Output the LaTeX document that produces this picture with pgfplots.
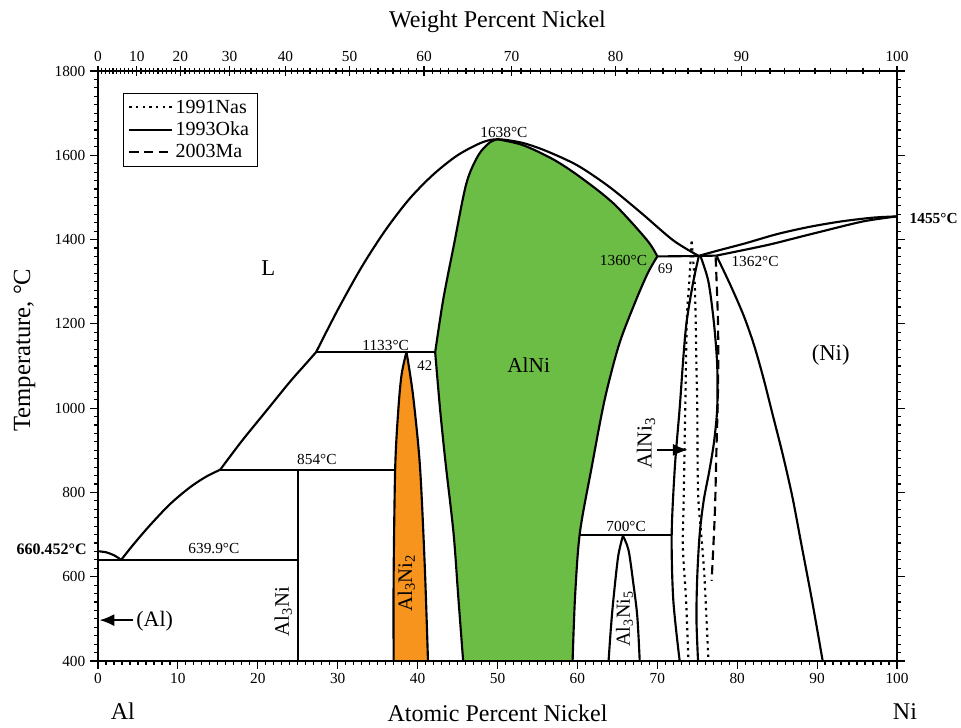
\documentclass[border=0pt]{standalone}
\usepackage{fontspec}
\setmainfont{Liberation Serif}
\usepackage{pgfplots}
\pgfplotsset{compat=1.18}
\usepgfplotslibrary{fillbetween}
\usetikzlibrary{arrows.meta}
\definecolor{phgreen}{RGB}{108,189,69}
\definecolor{phorange}{RGB}{247,148,29}
\newcommand{\fs}[1]{\fontsize{#1}{#1}\selectfont}
\begin{document}%
\def\minorlist{0}%
\foreach \w in {1,...,99}{%
  \pgfmathsetmacro\wa{\w/58.6934}%
  \pgfmathsetmacro\wb{(100-\w)/26.9815}%
  \pgfmathsetmacro\wx{100*\wa/(\wa+\wb)}%
  \xdef\minorlist{\minorlist,\wx}%
}%
\begin{tikzpicture}
% top axis (weight percent)
\begin{axis}[at={(0,0)},anchor=south west,scale only axis,width=599.25pt,height=442.5pt,
  xmin=0,xmax=100,ymin=400,ymax=1800,hide y axis,
  xtick pos=right, xticklabel pos=right,
  xtick={0,4.8596,10.308,16.459,23.458,31.493,40.813,51.752,64.775,80.534,100},
  xticklabels={0,10,20,30,40,50,60,70,80,90,100},
  minor xtick/.expanded={\minorlist},
  tick align=center, major tick length=7pt, minor tick length=4pt,
  tick style={black,line width=0.9pt},
  axis line style={line width=1.4pt},
  xticklabel style={font=\fs{11.5}}]
\addplot[draw=none] coordinates {(0,400) (100,1800)};
\end{axis}
% main axis
\begin{axis}[at={(0,0)},anchor=south west,scale only axis,width=599.25pt,height=442.5pt,
  xmin=0,xmax=100,ymin=400,ymax=1800,clip=false,
  xtick={0,10,...,100}, ytick={400,600,...,1800},
  minor x tick num=9, minor y tick num=9,
  xtick pos=left, ytick pos=both, yticklabel pos=left,
  tick align=outside, major tick length=6pt, minor tick length=3pt,
  tick style={black,line width=0.9pt},
  axis line style={line width=1.4pt},
  ticklabel style={font=\fs{11.5}},
  /pgf/number format/assume math mode=true,
  /pgf/number format/1000 sep={},
  legend image code/.code={\draw[#1] (0pt,0pt) -- (32pt,0pt);},
  legend style={at={(0.031,0.963)},anchor=north west,draw=black,
    font=\fs{15},inner xsep=4pt,inner ysep=3pt,row sep=1pt,cells={anchor=west}},
  pb/.style={black,line width=1.6pt,smooth,mark=none},
  pl/.style={black,line width=1.6pt,mark=none},
  pdot/.style={black,line width=1.6pt,smooth,mark=none,dash pattern=on 1.8pt off 3.2pt},
  pdash/.style={black,line width=1.6pt,smooth,mark=none,dash pattern=on 7pt off 4pt}]
\addlegendimage{black,line width=1.5pt,dash pattern=on 1.8pt off 3.2pt}
\addlegendentry{1991Nas}
\addlegendimage{black,line width=1.5pt}
\addlegendentry{1993Oka}
\addlegendimage{black,line width=1.5pt,dash pattern=on 7pt off 4pt}
\addlegendentry{2003Ma}
% --- phase boundaries (1993Oka, solid)
\addplot[pb] coordinates {(0,660.45) (1,658) (2,651) (2.9,640)};
\addplot[pb] coordinates {(2.9,640) (4.5,678) (6.5,722) (9,772) (11.5,812) (13.5,837) (15.3,854)};
\addplot[pb] coordinates {(15.3,854) (18,922) (21,992) (24,1062) (26,1105) (27.3,1133)};
\addplot[pb] coordinates {(27.3,1133) (30,1233) (33,1335) (36,1423) (39,1497) (42,1555) (45,1600) (48,1630) (50,1638) (53,1630) (56,1611) (60,1576) (64,1525) (68,1463) (72,1398) (75.2,1361)};
\addplot[pl] coordinates {(0,639.9) (25,639.9)};
\addplot[pl] coordinates {(15.3,854) (37.2,854)};
\addplot[pl] coordinates {(27.3,1133) (42.2,1133)};
\addplot[pl] coordinates {(60.3,700) (71.8,700)};
\addplot[pl] coordinates {(70,1360) (75.3,1361) (77.4,1362)};
\addplot[pl] coordinates {(25,400) (25,854)};
% Al3Ni2
\addplot[pb,name path=OL] coordinates {(37.0,400) (37.0,600) (37.2,861) (37.6,1000) (38.0,1080) (38.6,1133)};
\addplot[pb,name path=OR] coordinates {(41.3,400) (40.9,624) (40.3,861) (39.5,1019) (38.9,1100) (38.6,1133)};
\addplot[phorange] fill between[of=OL and OR,reverse=true];
% AlNi
\addplot[pb,name path=GLl] coordinates {(45.7,400) (45.1,550) (44.5,703) (43.5,870) (42.8,1000) (42.2,1133)};
\addplot[pb,name path=GLu] coordinates {(42.2,1133) (43.2,1257) (44.5,1383) (46.1,1533) (47.6,1600) (49,1630) (50,1638)};
\addplot[pb,name path=GRu] coordinates {(70,1360) (68.7,1399) (64.5,1486) (60.3,1549) (57,1590) (53.2,1624) (50,1638)};
\addplot[pb,name path=GRl] coordinates {(59.4,400) (59.7,550) (60.3,703) (61.8,861) (63.4,1019) (65.2,1150) (67.2,1250) (68.8,1320) (70,1360)};
\addplot[phgreen,draw=phgreen,line width=0.4pt] fill between[of=GLu and GRu,reverse=true];
\addplot[phgreen,draw=phgreen,line width=0.4pt] fill between[of=GLl and GRl,reverse=true];
% Al3Ni5
\addplot[pb] coordinates {(63.9,400) (64.2,480) (64.5,545) (65.1,648) (65.7,697)};
\addplot[pb] coordinates {(65.7,697) (66.4,663) (67.0,584) (67.5,505) (67.8,400)};
% AlNi3 (1993Oka)
\addplot[pb] coordinates {(75.2,1361) (74.5,1300) (73.7,1209) (73.3,1130) (72.8,1000) (72.2,861) (71.8,700) (72.0,545) (72.8,400)};
\addplot[pb] coordinates {(75.4,1361) (76.4,1300) (77.1,1200) (77.5,1100) (77.5,1000) (77.1,920) (76.5,850) (75.8,780) (75.3,700) (75.0,600) (74.9,500) (75.1,400)};
% 1991Nas dotted
\addplot[pdot] coordinates {(74.3,1395) (74.0,1300) (73.7,1209) (73.5,1000) (73.3,780) (73.2,670) (73.6,545) (73.9,400)};
\addplot[pdot] coordinates {(74.3,1395) (74.7,1288) (74.9,1100) (75.0,1000) (75.1,800) (75.5,700) (75.9,600) (76.4,400)};
% 2003Ma dashed
\addplot[pdash] coordinates {(77.3,1358) (77.6,1200) (77.6,1050) (77.4,900) (77.2,750) (76.8,590)};
% Ni side
\addplot[pb] coordinates {(75.3,1362) (78,1376) (81,1391) (85,1413) (89,1430) (93,1443) (97,1452) (100,1455)};
\addplot[pb] coordinates {(77.4,1362) (80,1372) (84,1388) (88,1407) (92,1426) (96,1444) (100,1455)};
\addplot[pb] coordinates {(77.4,1362) (79.2,1290) (80.8,1220) (82.1,1150) (83.3,1070) (84.5,980) (85.7,890) (86.9,790) (88.0,680) (89.4,540) (90.7,400)};
% arrows
\addplot[black,line width=1.3pt,-{Latex[length=11pt,width=9pt]}] coordinates {(4.4,497) (0.2,497)};
\addplot[black,line width=1.3pt,-{Latex[length=11pt,width=9pt]}] coordinates {(69.9,901) (73.8,901)};
% labels
\node[font=\fs{17}] at (axis cs:21.3,1332) {L};
\node[font=\fs{16}] at (axis cs:53.9,1102) {AlNi};
\node[font=\fs{17}] at (axis cs:91.7,1126) {(Ni)};
\node[font=\fs{16.5}] at (axis cs:7.1,494) {(Al)};
\node[font=\fs{11.5}] at (axis cs:50.8,1654) {1638°C};
\node[font=\fs{11.5}] at (axis cs:36.0,1148) {1133°C};
\node[font=\fs{11}] at (axis cs:40.9,1102) {42};
\node[font=\fs{11.5}] at (axis cs:27.4,877) {854°C};
\node[font=\fs{11.5}] at (axis cs:14.5,666) {639.9°C};
\node[font=\fs{11.5},anchor=east] at (axis cs:69.3,1351) {1360°C};
\node[font=\fs{11}] at (axis cs:71.0,1330) {69};
\node[font=\fs{11.5},anchor=west] at (axis cs:78.7,1347) {1362°C};
\node[font=\fs{11.5}] at (axis cs:66.1,719) {700°C};
\node[font=\fs{12}\bfseries,anchor=east,xshift=-5pt] at (axis cs:0,666) {660.452°C};
\node[font=\fs{11.5}\bfseries,anchor=west,xshift=6pt] at (axis cs:100,1450) {1455°C};
\node[font=\fs{15.5},rotate=90] at (axis cs:23.2,517) {Al\textsubscript{3}Ni};
\node[font=\fs{15.5},rotate=90] at (axis cs:38.6,585) {Al\textsubscript{3}Ni\textsubscript{2}};
\node[font=\fs{15},rotate=90] at (axis cs:65.9,500) {Al\textsubscript{3}Ni\textsubscript{5}};
\node[font=\fs{16},rotate=90] at (axis cs:68.6,917) {AlNi\textsubscript{3}};
\node[font=\fs{18},yshift=-38pt] at (axis cs:3.1,400) {Al};
\node[font=\fs{18},yshift=-38pt] at (axis cs:101,400) {Ni};
\node[font=\fs{18},yshift=-39pt] at (rel axis cs:0.5,0) {Atomic Percent Nickel};
\node[font=\fs{18},yshift=36.75pt] at (rel axis cs:0.5,1) {Weight Percent Nickel};
\node[font=\fs{18.5},xshift=-55pt,rotate=90] at (rel axis cs:0,0.527) {Temperature, °C};
\end{axis}
\pgfresetboundingbox
\path[use as bounding box] (-73.5pt,-50.25pt) rectangle (647.25pt,495.75pt);
\end{tikzpicture}
\end{document}
